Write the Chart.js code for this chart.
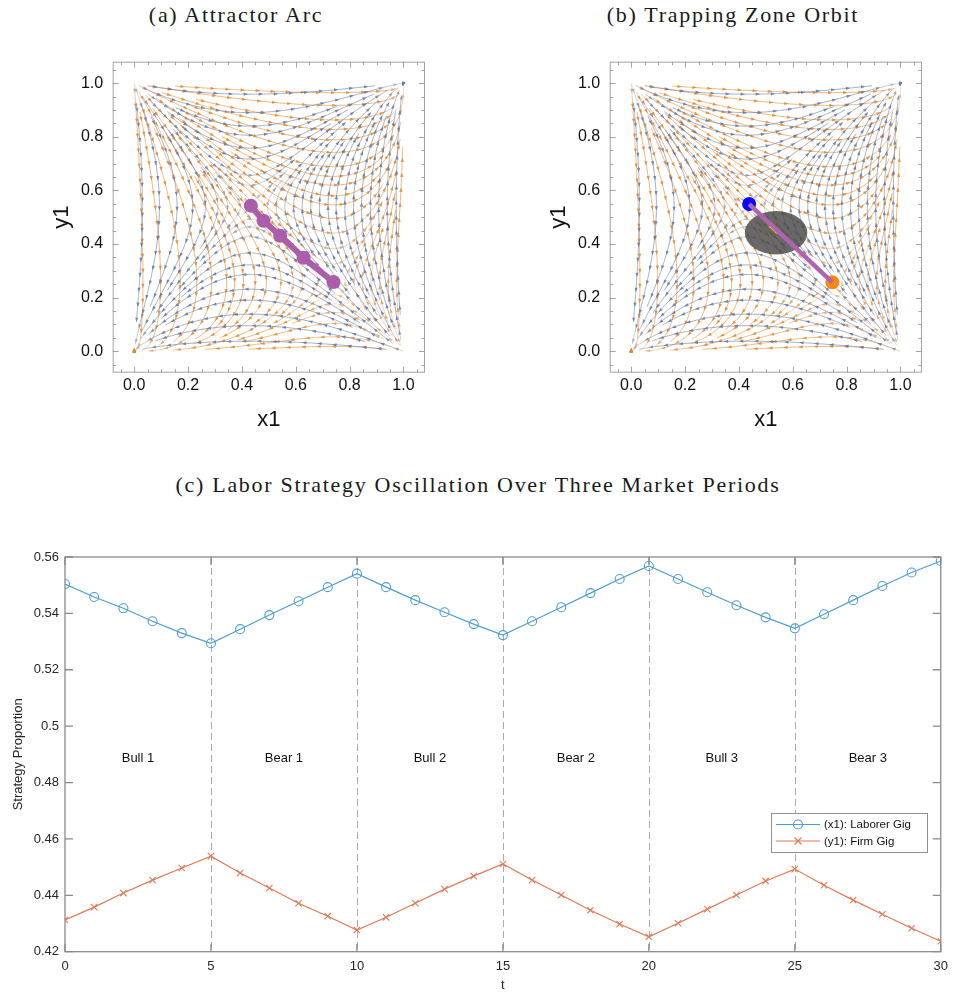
<!DOCTYPE html>
<html>
<head>
<meta charset="utf-8">
<script src="https://cdn.jsdelivr.net/npm/chart.js@4.4.0/dist/chart.umd.min.js"></script>
<style>
body { margin:0; background:#fff; width:955px; height:995px; position:relative; overflow:hidden; }
.title { position:absolute; font-family:'Liberation Serif','DejaVu Serif',serif; font-size:22px; letter-spacing:1.7px; color:#1a1a1a; transform:translateX(-50%); white-space:nowrap; line-height:26px; }
.box { position:absolute; }
</style>
</head>
<body>
<div class="title" style="left:236px;top:2px">(a) Attractor Arc</div>
<div class="title" style="left:733px;top:2px">(b) Trapping Zone Orbit</div>
<div class="title" style="left:478px;top:472px">(c) Labor Strategy Oscillation Over Three Market Periods</div>
<div class="box" style="left:40px;top:40px;width:400px;height:400px"><canvas id="arcChart"></canvas></div>
<div class="box" style="left:537px;top:40px;width:400px;height:400px"><canvas id="orbitChart"></canvas></div>
<div class="box" style="left:0;top:540px;width:955px;height:455px"><canvas id="oscChart"></canvas></div>
<script>
// ---- data ----
const unitTicks = [0, 0.2, 0.4, 0.6, 0.8, 1.0];
const arcX = [0.433, 0.480, 0.542, 0.629, 0.740];
const arcY = [0.543, 0.487, 0.431, 0.349, 0.258];
const orbitStart = [0.438, 0.549];
const orbitEnd = [0.747, 0.257];
const orbitMarkX = [0.515, 0.546];
const orbitMarkY = [0.470, 0.443];
const trapCenter = [0.538, 0.442];
const trapRadii = [0.116, 0.081];
// interior rest points of the two overlaid flows (orange drawn first, blue on top)
const flowSaddles = [[0.74, 0.26], [0.43, 0.54]];

const periodT = [0,1,2,3,4,5,6,7,8,9,10,11,12,13,14,15,16,17,18,19,20,21,22,23,24,25,26,27,28,29,30];
const laborerGig = [0.5504,0.5458,0.5418,0.5372,0.5330,0.5294,0.5344,0.5394,0.5443,0.5493,0.5541,
                    0.5493,0.5447,0.5404,0.5362,0.5323,0.5372,0.5422,0.5472,0.5522,0.5568,
                    0.5522,0.5475,0.5429,0.5386,0.5347,0.5397,0.5447,0.5497,0.5545,0.5586];
const firmGig = [0.4313,0.4358,0.4408,0.4454,0.4497,0.4539,0.4479,0.4426,0.4372,0.4326,0.4277,
                 0.4322,0.4372,0.4422,0.4468,0.4511,0.4454,0.4401,0.4347,0.4298,0.4253,
                 0.4301,0.4351,0.4401,0.4451,0.4493,0.4436,0.4383,0.4333,0.4283,0.4237];
const phaseNames = ['Bull 1','Bear 1','Bull 2','Bear 2','Bull 3','Bear 3'];
const phaseBreaks = [5, 10, 15, 20, 25];
const seriesNames = ['(x1): Laborer Gig', '(y1): Firm Gig'];

Chart.defaults.font.family = "'Liberation Sans', Arial, sans-serif";

// ---- stream lines of the background flow ----
function fieldAt(s, x, y) {
    return [x * (1 - x) * (y - s[1]), y * (1 - y) * (x - s[0])];
}

function buildStreams(s) {
    const dsep = 0.032, dtest = 0.014, h = 0.004, cell = 0.016;
    const buckets = new Map();
    const key = (i, j) => i * 1000 + j;
    function near(x, y, d) {
        const ci = Math.floor(x / cell), cj = Math.floor(y / cell), r = Math.ceil(d / cell);
        for (let i = ci - r; i <= ci + r; i++) for (let j = cj - r; j <= cj + r; j++) {
            const b = buckets.get(key(i, j));
            if (!b) continue;
            for (const p of b) {
                const dx = p[0] - x, dy = p[1] - y;
                if (dx * dx + dy * dy < d * d) return true;
            }
        }
        return false;
    }
    function addLine(pts) {
        for (const p of pts) {
            const k = key(Math.floor(p[0] / cell), Math.floor(p[1] / cell));
            if (!buckets.has(k)) buckets.set(k, []);
            buckets.get(k).push(p);
        }
    }
    function trace(x0, y0, dir) {
        const pts = [[x0, y0]];
        let x = x0, y = y0;
        for (let k = 0; k < 400; k++) {
            let v = fieldAt(s, x, y), m = Math.hypot(v[0], v[1]);
            if (m < 3e-4) break;
            const mx = x + dir * 0.5 * h * v[0] / m, my = y + dir * 0.5 * h * v[1] / m;
            v = fieldAt(s, mx, my); m = Math.hypot(v[0], v[1]);
            if (m < 3e-4) break;
            const nx = x + dir * h * v[0] / m, ny = y + dir * h * v[1] / m;
            if (nx < 0 || nx > 1 || ny < 0 || ny > 1) break;
            if (near(nx, ny, dtest)) break;
            pts.push([nx, ny]);
            x = nx; y = ny;
        }
        return pts;
    }
    const lines = [];
    for (let gx = dsep / 2; gx < 1; gx += dsep) {
        for (let gy = dsep / 2; gy < 1; gy += dsep) {
            if (near(gx, gy, dsep * 0.9)) continue;
            const f = trace(gx, gy, 1), b = trace(gx, gy, -1);
            const pts = b.reverse().concat(f.slice(1));
            if (pts.length < 8) continue;
            addLine(pts);
            lines.push(pts);
        }
    }
    return lines;
}

const streamSets = flowSaddles.map(s => ({ s, lines: buildStreams(s) }));
// [r,g,b, min alpha, alpha range]
const streamColors = [[228, 138, 45, 0.28, 0.5], [98, 120, 165, 0.2, 0.55]];

const streamPlugin = {
    id: 'streams',
    beforeDatasetsDraw(chart) {
        const { ctx, chartArea: a, scales: { x, y } } = chart;
        ctx.save();
        ctx.beginPath();
        ctx.rect(a.left, a.top, a.right - a.left, a.bottom - a.top);
        ctx.clip();
        ctx.lineWidth = 0.8;
        streamSets.forEach((set, si) => {
            const c = streamColors[si];
            for (const pts of set.lines) {
                const px = pts.map(p => [x.getPixelForValue(p[0]), y.getPixelForValue(p[1])]);
                for (let i = 0; i < pts.length - 1; i += 4) {
                    const j = Math.min(i + 4, pts.length - 1);
                    const v = fieldAt(set.s, pts[i][0], pts[i][1]);
                    const sp = Math.min(1, Math.hypot(v[0], v[1]) / 0.05);
                    ctx.strokeStyle = `rgba(${c[0]},${c[1]},${c[2]},${c[3] + c[4] * sp})`;
                    ctx.beginPath();
                    ctx.moveTo(px[i][0], px[i][1]);
                    for (let k = i + 1; k <= j; k++) ctx.lineTo(px[k][0], px[k][1]);
                    ctx.stroke();
                }
                // arrow heads along the line
                for (let i = 7; i < pts.length; i += 14) {
                    const v = fieldAt(set.s, pts[i][0], pts[i][1]);
                    const sp = Math.min(1, Math.hypot(v[0], v[1]) / 0.05);
                    const dx = px[i][0] - px[i - 1][0], dy = px[i][1] - px[i - 1][1];
                    const ang = Math.atan2(dy, dx);
                    ctx.fillStyle = `rgba(${c[0]},${c[1]},${c[2]},${c[3] + 0.1 + c[4] * sp})`;
                    ctx.save();
                    ctx.translate(px[i][0], px[i][1]);
                    ctx.rotate(ang);
                    ctx.beginPath();
                    ctx.moveTo(2, 0);
                    ctx.lineTo(-2.4, 1.6);
                    ctx.lineTo(-2.4, -1.6);
                    ctx.closePath();
                    ctx.fill();
                    ctx.restore();
                }
            }
        });
        // trapping zone for panel (b)
        if (chart.options.plugins.trapZone) {
            const cx = x.getPixelForValue(trapCenter[0]), cy = y.getPixelForValue(trapCenter[1]);
            const rx = Math.abs(x.getPixelForValue(trapCenter[0] + trapRadii[0]) - cx);
            const ry = Math.abs(y.getPixelForValue(trapCenter[1] + trapRadii[1]) - cy);
            ctx.fillStyle = 'rgba(72,72,72,0.82)';
            ctx.beginPath();
            ctx.ellipse(cx, cy, rx, ry, 0, 0, Math.PI * 2);
            ctx.fill();
        }
        ctx.restore();
    }
};

const frameTicks = {
    id: 'frameTicks',
    afterDraw(chart) {
        const { ctx, chartArea: a, scales: { x, y } } = chart;
        ctx.save();
        ctx.strokeStyle = '#a3a3a3';
        ctx.lineWidth = 1;
        ctx.strokeRect(a.left + 0.5, a.top + 0.5, a.right - a.left - 1, a.bottom - a.top - 1);
        ctx.beginPath();
        for (let k = -1; k <= 21; k++) {
            const v = k * 0.05, len = k % 4 === 0 ? 6 : 3.5;
            const px = Math.round(x.getPixelForValue(v)) + 0.5;
            const py = Math.round(y.getPixelForValue(v)) + 0.5;
            ctx.moveTo(px, a.bottom); ctx.lineTo(px, a.bottom - len);
            ctx.moveTo(px, a.top); ctx.lineTo(px, a.top + len);
            ctx.moveTo(a.left, py); ctx.lineTo(a.left + len, py);
            ctx.moveTo(a.right, py); ctx.lineTo(a.right - len, py);
        }
        ctx.stroke();
        ctx.restore();
    }
};

function phaseScales() {
    const fixTicks = s => { s.ticks = unitTicks.map(v => ({ value: v })); };
    return {
        x: {
            type: 'linear', min: -0.08, max: 1.08,
            afterBuildTicks: fixTicks,
            afterFit: s => { s.height = 67.3; },
            grid: { display: false, drawTicks: false },
            border: { display: false },
            ticks: { padding: 3, color: '#111', font: { size: 16 }, callback: v => v.toFixed(1) },
            title: { display: true, text: 'x1', color: '#111', font: { size: 22 }, padding: { top: 0, bottom: 6.8 } }
        },
        y: {
            type: 'linear', min: -0.08, max: 1.08,
            afterBuildTicks: fixTicks,
            afterFit: s => { s.width = 72.7; },
            grid: { display: false, drawTicks: false },
            border: { display: false },
            ticks: { padding: 9.5, color: '#111', font: { size: 16 }, callback: v => v.toFixed(1) },
            title: { display: true, text: 'y1', color: '#111', font: { size: 22 }, padding: { top: 8.8, bottom: 0 } }
        }
    };
}

const pointsOf = (xs, ys) => xs.map((v, i) => ({ x: v, y: ys[i] }));

new Chart(document.getElementById('arcChart'), {
    type: 'scatter',
    data: {
        datasets: [{
            data: pointsOf(arcX, arcY),
            showLine: true,
            borderColor: '#ab5dab',
            borderWidth: 6,
            pointRadius: 7,
            pointBackgroundColor: '#ab5dab',
            pointBorderWidth: 0
        }]
    },
    options: {
        animation: false, responsive: true, maintainAspectRatio: false,
        layout: { padding: { top: 21.7, right: 15, left: 0, bottom: 0 } },
        scales: phaseScales(),
        plugins: { legend: { display: false }, tooltip: { enabled: false } }
    },
    plugins: [streamPlugin, frameTicks]
});

new Chart(document.getElementById('orbitChart'), {
    type: 'scatter',
    data: {
        datasets: [
            {
                data: pointsOf([orbitStart[0], orbitEnd[0]], [orbitStart[1], orbitEnd[1]]),
                showLine: true, borderColor: '#b064b0', borderWidth: 4.5, pointRadius: 0
            },
            {
                data: pointsOf(orbitMarkX, orbitMarkY),
                showLine: true, borderColor: '#ffcc00', borderWidth: 4, pointRadius: 0
            },
            {
                data: [{ x: orbitStart[0], y: orbitStart[1] }],
                pointRadius: 7, pointBackgroundColor: '#0a0af5', pointBorderWidth: 0
            },
            {
                data: [{ x: orbitEnd[0], y: orbitEnd[1] }],
                pointRadius: 7, pointBackgroundColor: '#fb8610', pointBorderWidth: 0
            }
        ]
    },
    options: {
        animation: false, responsive: true, maintainAspectRatio: false,
        layout: { padding: { top: 21.7, right: 15, left: 0, bottom: 0 } },
        scales: phaseScales(),
        plugins: { legend: { display: false }, tooltip: { enabled: false }, trapZone: true }
    },
    plugins: [streamPlugin, frameTicks]
});

// ---- panel (c) ----
const blueLine = '#4f9ed3';
const redLine = '#de7b57';

const matlabBox = {
    id: 'matlabBox',
    beforeDatasetsDraw(chart) {
        const { ctx, chartArea: a, scales: { x, y } } = chart;
        ctx.save();
        ctx.strokeStyle = '#ababab';
        ctx.lineWidth = 1;
        ctx.setLineDash([7, 4]);
        ctx.beginPath();
        phaseBreaks.forEach(t => {
            const px = Math.round(x.getPixelForValue(t)) + 0.5;
            ctx.moveTo(px, a.top); ctx.lineTo(px, a.bottom);
        });
        ctx.stroke();
        ctx.setLineDash([]);
        ctx.fillStyle = '#111';
        ctx.font = "13px 'Liberation Sans', Arial, sans-serif";
        ctx.textAlign = 'center';
        ctx.textBaseline = 'middle';
        phaseNames.forEach((name, i) => {
            ctx.fillText(name, x.getPixelForValue(i * 5 + 2.5), y.getPixelForValue(0.4885));
        });
        ctx.restore();
    },
    afterDraw(chart) {
        const { ctx, chartArea: a, scales: { x, y } } = chart;
        ctx.save();
        ctx.strokeStyle = '#8a8a8a';
        ctx.lineWidth = 1.3;
        ctx.strokeRect(a.left, a.top, a.right - a.left, a.bottom - a.top);
        ctx.beginPath();
        x.ticks.forEach(t => {
            const px = x.getPixelForValue(t.value);
            ctx.moveTo(px, a.bottom); ctx.lineTo(px, a.bottom - 8);
            ctx.moveTo(px, a.top); ctx.lineTo(px, a.top + 8);
        });
        y.ticks.forEach(t => {
            const py = y.getPixelForValue(t.value);
            ctx.moveTo(a.left, py); ctx.lineTo(a.left + 8, py);
            ctx.moveTo(a.right, py); ctx.lineTo(a.right - 8, py);
        });
        ctx.stroke();

        // legend box
        const lx = 771, ly = 273, lw = 156, lh = 39;
        ctx.fillStyle = '#fff';
        ctx.fillRect(lx, ly, lw, lh);
        ctx.strokeStyle = '#8f8f8f';
        ctx.lineWidth = 1;
        ctx.strokeRect(lx + 0.5, ly + 0.5, lw, lh);
        const rows = [ly + 11.5, ly + 28];
        ctx.font = "11.5px 'Liberation Sans', Arial, sans-serif";
        ctx.textBaseline = 'middle';
        ctx.textAlign = 'left';
        [blueLine, redLine].forEach((col, i) => {
            const ry = rows[i];
            ctx.strokeStyle = col;
            ctx.lineWidth = 1.2;
            ctx.beginPath();
            ctx.moveTo(776, ry); ctx.lineTo(820, ry);
            ctx.stroke();
            ctx.beginPath();
            if (i === 0) {
                ctx.arc(798, ry, 4.5, 0, Math.PI * 2);
            } else {
                ctx.moveTo(794.5, ry - 3.5); ctx.lineTo(801.5, ry + 3.5);
                ctx.moveTo(794.5, ry + 3.5); ctx.lineTo(801.5, ry - 3.5);
            }
            ctx.stroke();
            ctx.fillStyle = '#111';
            ctx.fillText(seriesNames[i], 824, ry + 0.5);
        });
        ctx.restore();
    }
};

new Chart(document.getElementById('oscChart'), {
    type: 'line',
    data: {
        labels: periodT,
        datasets: [
            {
                label: seriesNames[0],
                data: periodT.map((t, i) => ({ x: t, y: laborerGig[i] })),
                borderColor: blueLine, borderWidth: 1.2,
                pointStyle: 'circle', pointRadius: 4.5,
                pointBorderColor: blueLine, pointBackgroundColor: 'rgba(0,0,0,0)', pointBorderWidth: 1.1
            },
            {
                label: seriesNames[1],
                data: periodT.map((t, i) => ({ x: t, y: firmGig[i] })),
                borderColor: redLine, borderWidth: 1.2,
                pointStyle: 'crossRot', pointRadius: 4.5,
                pointBorderColor: redLine, pointBorderWidth: 1.1
            }
        ]
    },
    options: {
        animation: false, responsive: true, maintainAspectRatio: false,
        layout: { padding: { top: 17, right: 11, left: 0, bottom: 0 } },
        scales: {
            x: {
                type: 'linear', min: 0, max: 30,
                afterFit: s => { s.height = 43.3; },
                grid: { display: false, drawTicks: false },
                border: { display: false },
                ticks: { stepSize: 5, padding: 7, color: '#262626', font: { size: 13 } },
                title: { display: true, text: 't', color: '#262626', font: { size: 13 }, padding: { top: 0, bottom: 2.2 } }
            },
            y: {
                type: 'linear', min: 0.42, max: 0.56,
                afterFit: s => { s.width = 65; },
                grid: { display: false, drawTicks: false },
                border: { display: false },
                ticks: { stepSize: 0.02, padding: 6, color: '#262626', font: { size: 13 },
                         callback: v => String(+v.toFixed(2)) },
                title: { display: true, text: 'Strategy Proportion', color: '#262626', font: { size: 13 }, padding: { top: 10.2, bottom: 0 } }
            }
        },
        plugins: { legend: { display: false }, tooltip: { enabled: false } }
    },
    plugins: [matlabBox]
});
</script>
</body>
</html>
